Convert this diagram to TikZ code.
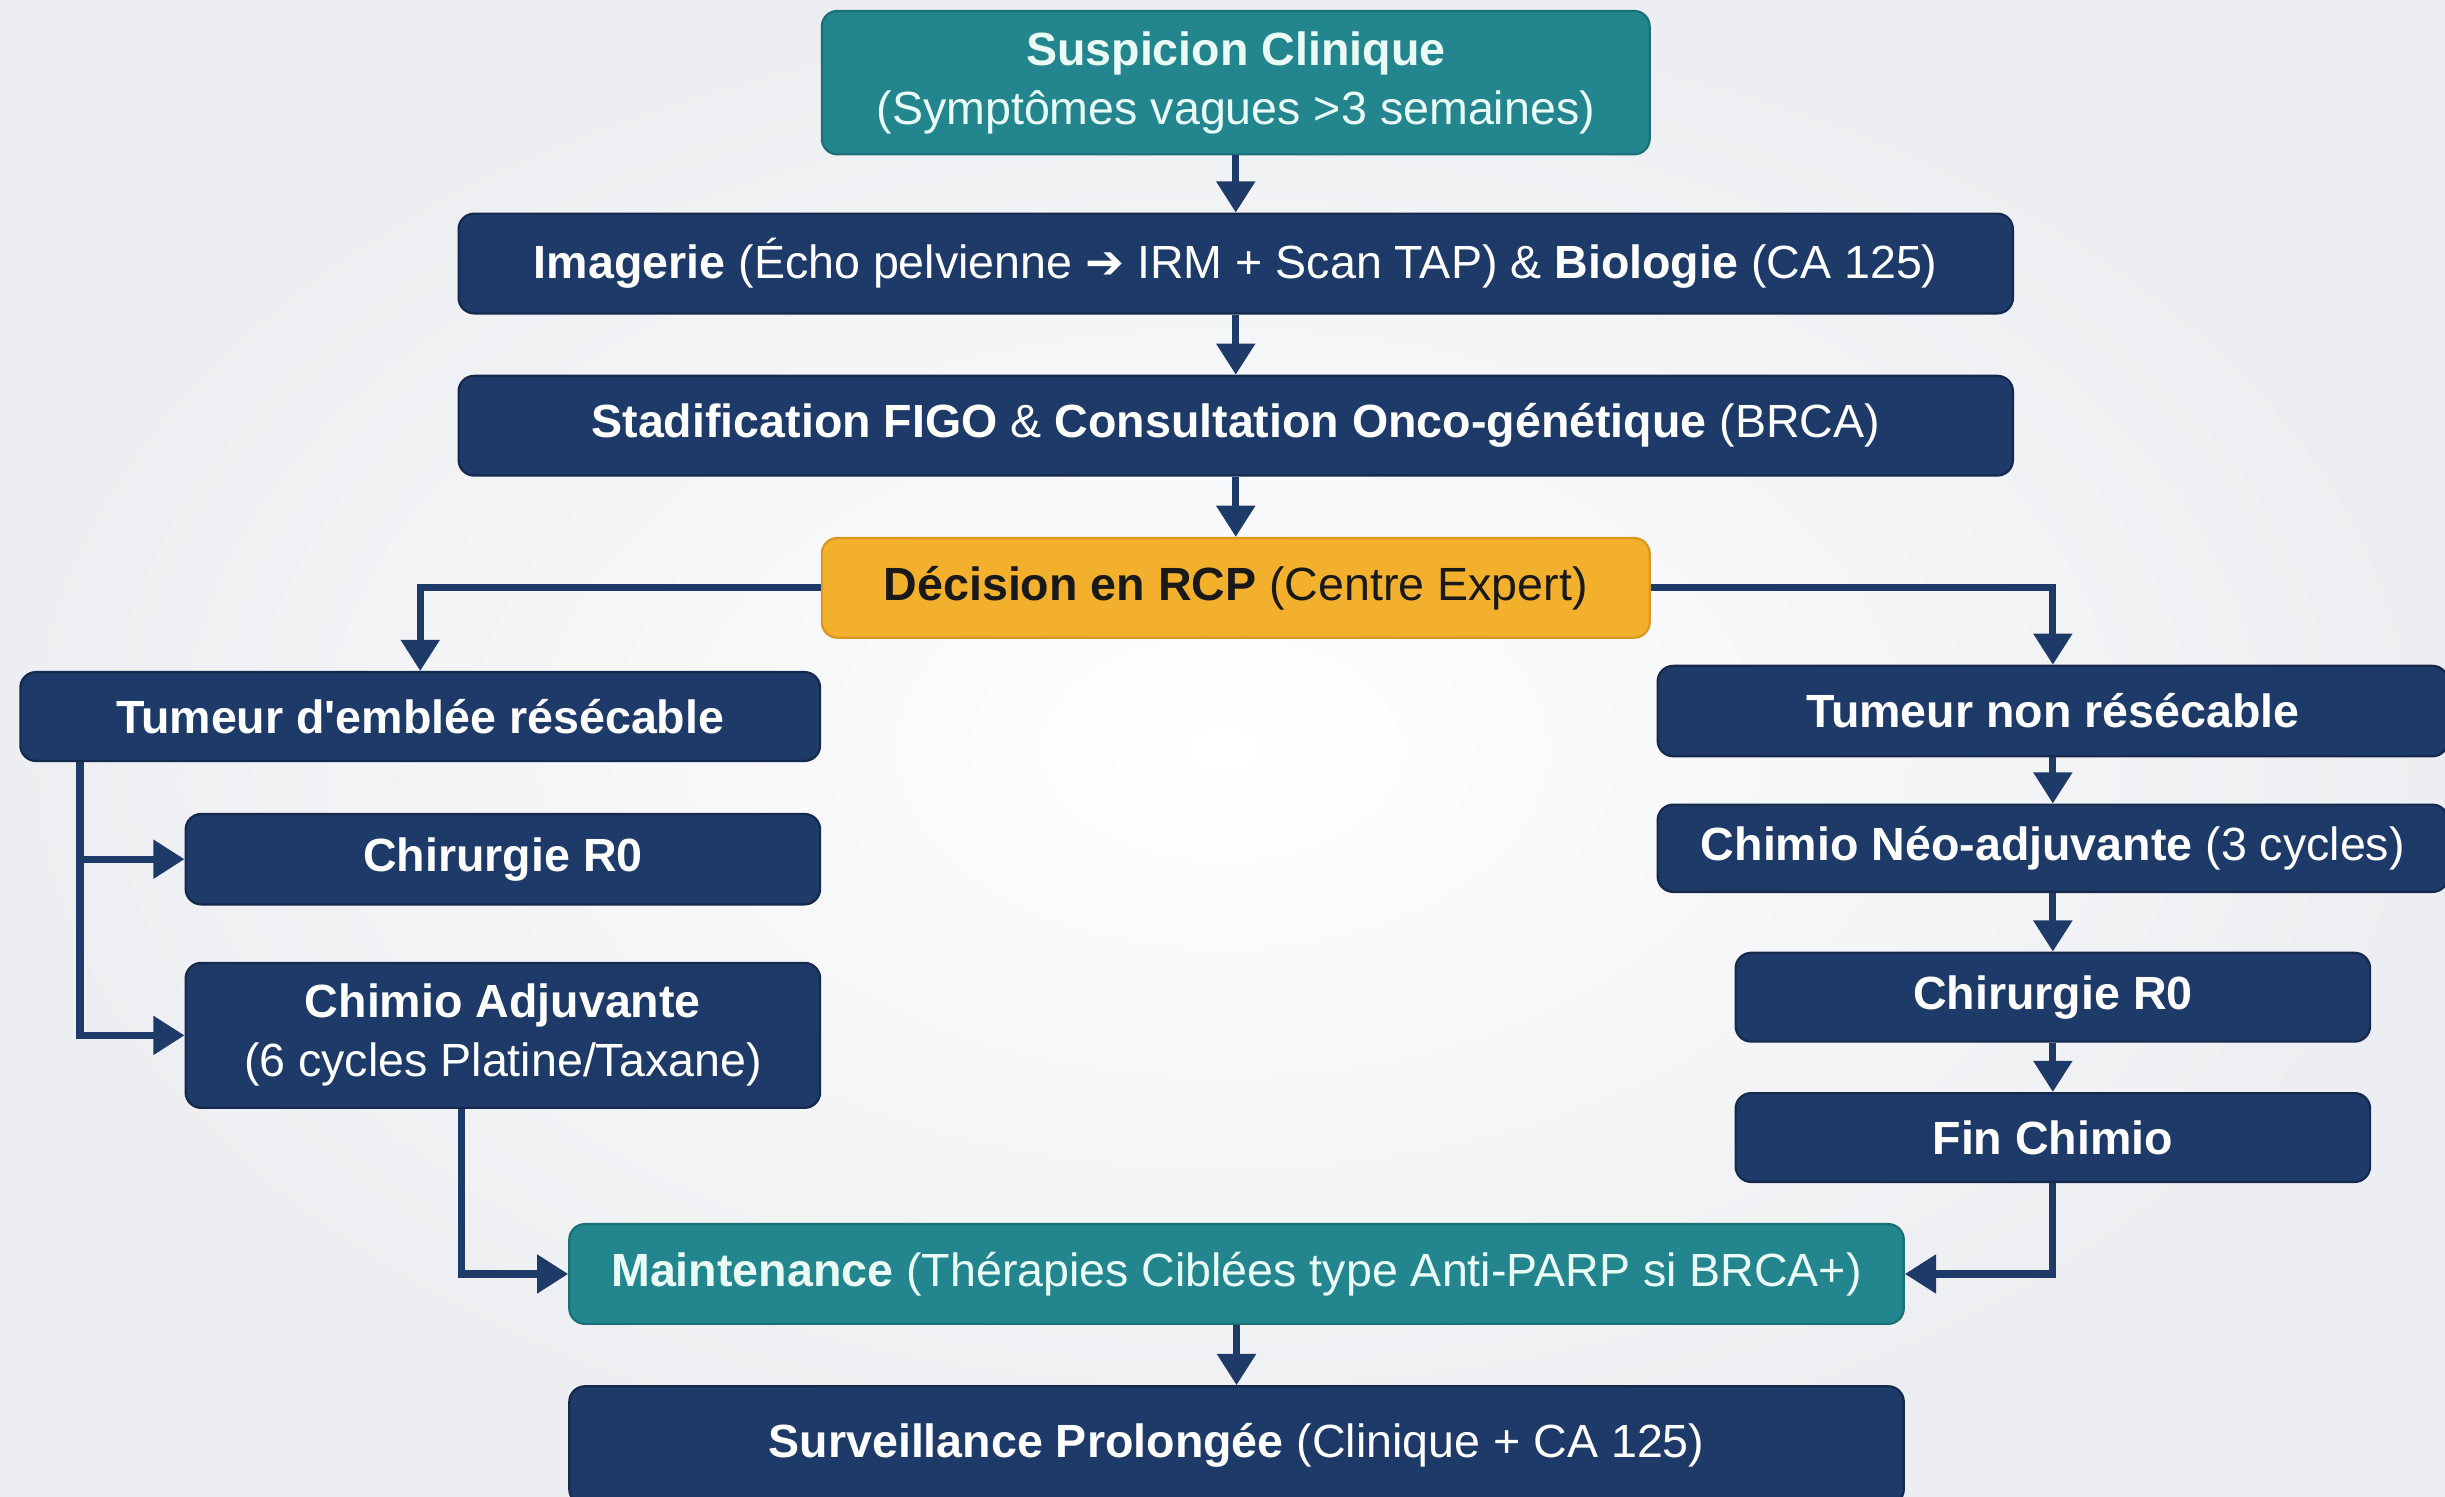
\documentclass[tikz,border=0pt]{standalone}
\usepackage{fontspec}
\setmainfont{Liberation Sans}
\newfontfamily\symfont{DejaVu Sans}
\usepackage{tikz}
\usetikzlibrary{arrows.meta,positioning,calc}
\definecolor{navy}{HTML}{1E3A68}
\definecolor{navyline}{HTML}{15294D}
\definecolor{teal}{HTML}{23868E}
\definecolor{tealline}{HTML}{1B6F76}
\definecolor{gold}{HTML}{F3B02C}
\definecolor{goldline}{HTML}{D9981E}
\definecolor{mint}{HTML}{EAFBF6}
\definecolor{bgout}{HTML}{ECEEF1}
\tikzset{
  box/.style={draw=navyline, fill=navy, rounded corners=0.2cm, line width=0.8pt,
    text=white, align=center, font=\fontsize{17}{21.5}\selectfont, inner sep=0pt},
  tealbox/.style={box, draw=tealline, fill=teal, text=mint},
  goldbox/.style={box, draw=goldline, fill=gold, text=black!90},
  conn/.style={draw=navy, line width=2.6pt, -{Triangle[width=0.48cm,length=0.4cm]}}
}
\begin{document}
\begin{tikzpicture}[x=0.02cm,y=-0.02cm]
\useasboundingbox (0,0) rectangle (1568,960);
\shade[inner color=white, outer color=bgout] (0,0) rectangle (1568,960);

\node[tealbox, minimum width=10.62cm, minimum height=1.84cm] (susp) at (792.5,53)
  {\textbf{Suspicion Clinique}\\(Symptômes vagues >3 semaines)};
\node[box, minimum width=19.94cm, minimum height=1.28cm] (imag) at (792.5,169)
  {\textbf{Imagerie} (Écho pelvienne {\symfont\bfseries ➔} IRM + Scan TAP) \& \textbf{Biologie} (CA 125)};
\node[box, minimum width=19.94cm, minimum height=1.28cm] (stad) at (792.5,273)
  {\textbf{Stadification FIGO} \& \textbf{Consultation Onco-génétique} (BRCA)};
\node[goldbox, minimum width=10.62cm, minimum height=1.28cm] (rcp) at (792.5,377)
  {\textbf{Décision en RCP} (Centre Expert)};

\node[box, minimum width=10.26cm, minimum height=1.14cm] (tres) at (269.5,459.5)
  {\textbf{Tumeur d\textquotesingle emblée résécable}};
\node[box, minimum width=8.14cm, minimum height=1.16cm] (chirL) at (322.5,551)
  {\textbf{Chirurgie R0}};
\node[box, minimum width=8.14cm, minimum height=1.86cm] (adj) at (322.5,664)
  {\textbf{Chimio Adjuvante}\\(6 cycles Platine/Taxane)};

\node[box, minimum width=10.14cm, minimum height=1.16cm] (tnon) at (1316.5,456)
  {\textbf{Tumeur non résécable}};
\node[box, minimum width=10.14cm, minimum height=1.12cm] (neo) at (1316.5,544)
  {\textbf{Chimio Néo-adjuvante} (3 cycles)};
\node[box, minimum width=8.14cm, minimum height=1.14cm] (chirR) at (1316.5,639.5)
  {\textbf{Chirurgie R0}};
\node[box, minimum width=8.14cm, minimum height=1.14cm] (fin) at (1316.5,729.5)
  {\textbf{Fin Chimio}};

\node[tealbox, minimum width=17.12cm, minimum height=1.28cm] (maint) at (793,817)
  {\textbf{Maintenance} (Thérapies Ciblées type Anti-PARP si BRCA+)};
\node[box, minimum width=17.12cm, minimum height=1.52cm] (surv) at (793,927)
  {\textbf{Surveillance Prolongée} (Clinique + CA 125)};

\draw[conn] (susp) -- (imag);
\draw[conn] (imag) -- (stad);
\draw[conn] (stad) -- (rcp);
\draw[conn] (rcp.west) -| (tres.north);
\draw[conn] (rcp.east) -| (tnon.north);
\draw[conn] ([xshift=0.78cm]tres.south west) |- (chirL.west);
\draw[conn] ([xshift=0.78cm]tres.south west) |- (adj.west);
\draw[conn] ([xshift=-0.53cm]adj.south) |- (maint.west);
\draw[conn] (tnon) -- (neo);
\draw[conn] (neo.south) -- (chirR.north);
\draw[conn] (chirR) -- (fin);
\draw[conn] (fin.south) |- (maint.east);
\draw[conn] (maint) -- (surv);
\end{tikzpicture}
\end{document}
